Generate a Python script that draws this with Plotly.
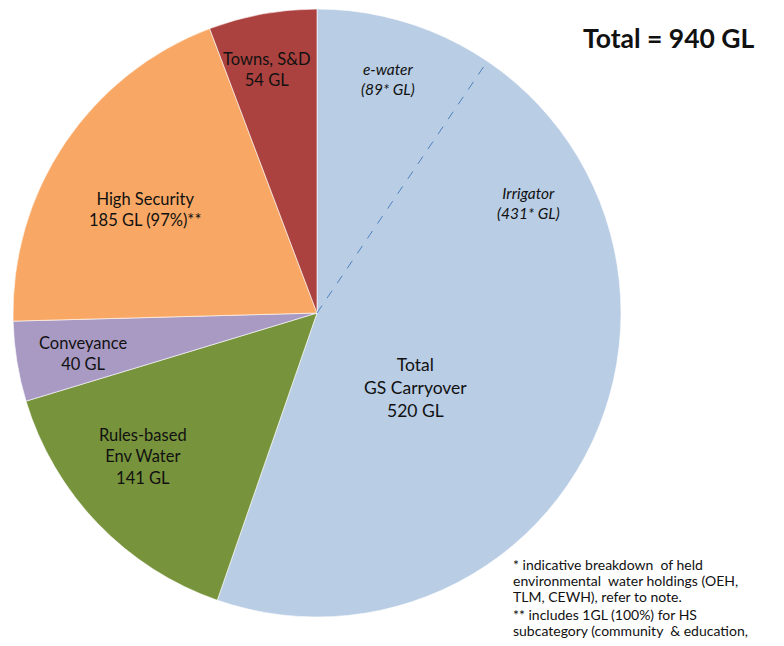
import math
import plotly.graph_objects as go

# ---- data ----
categories = ["Total GS Carryover", "Rules-based Env Water", "Conveyance", "High Security", "Towns, S&D"]
values = [520, 141, 40, 185, 54]
colors = ["#B9CDE5", "#77933C", "#A99AC4", "#F8A864", "#AC423F"]
sub_labels = ["e-water", "Irrigator"]
sub_values = [89, 431]
total_value = sum(values)

# page body has an 8px margin; work in window pixels and convert
OFF = 8
W, H = 784 - OFF, 646 - OFF
FONT = "Lato"

def px(x):
    return (x - OFF) / W

def py(y):
    return 1 - (y - OFF) / H

cx_px, cy_px, r_px = 317, 313, 304
fig = go.Figure()
fig.add_trace(go.Pie(
    labels=categories,
    values=values,
    sort=False,
    direction="clockwise",
    rotation=0,
    marker=dict(colors=colors, line=dict(color="white", width=0.6)),
    textinfo="none",
    hoverinfo="label+value",
    showlegend=False,
    domain=dict(x=[px(cx_px - r_px), px(cx_px + r_px)], y=[py(cy_px + r_px), py(cy_px - r_px)]),
))

# dashed split line for GS Carryover sub-breakdown
ang = sub_values[0] / total_value * 2 * math.pi
fig.add_shape(type="line", xref="paper", yref="paper",
              x0=px(cx_px), y0=py(cy_px),
              x1=px(cx_px + r_px * math.sin(ang)), y1=py(cy_px - r_px * math.cos(ang)),
              line=dict(color="#4F81BD", width=1, dash="dash"))

def ann(x, y, text, size=15, italic=False, bold=False, xanchor="center", yanchor="middle", align="center"):
    t = text
    if italic:
        t = "<i>" + t + "</i>"
    if bold:
        t = "<b>" + t + "</b>"
    fig.add_annotation(x=px(x), y=py(y), xref="paper", yref="paper", text=t, showarrow=False,
                       font=dict(family=FONT, size=size, color="#111111"),
                       xanchor=xanchor, yanchor=yanchor, align=align)

ann(267, 70, f"{categories[4]}<br>{values[4]} GL", size=16.5)
ann(388, 79, f"{sub_labels[0]}<br>({sub_values[0]}* GL)", size=15.5, italic=True)
ann(528, 203, f"{sub_labels[1]}<br>({sub_values[1]}* GL)", size=15.5, italic=True)
ann(415, 387, f"Total<br>GS Carryover<br>{values[0]} GL", size=17.5)
ann(145, 209, f"{categories[3]}<br>{values[3]} GL (97%)**", size=16.5)
ann(83, 353, f"{categories[2]}<br>{values[2]} GL", size=16.5)
ann(143, 457, f"Rules-based<br>Env Water<br>{values[1]} GL", size=16.5)
ann(669, 38, f"Total = {total_value} GL", size=26.5, bold=True)

notes = [
    "* indicative breakdown  of held",
    "environmental  water holdings (OEH,",
    "TLM, CEWH), refer to note.",
    "** includes 1GL (100%) for HS",
    "subcategory (community  & education,",
]
note_y = [564, 580, 596, 614, 630]
for t, yy in zip(notes, note_y):
    ann(511, yy, t, size=14, xanchor="left", align="left")

fig.update_layout(width=W, height=H, margin=dict(l=0, r=0, t=0, b=0),
                  paper_bgcolor="white", plot_bgcolor="white")
fig.write_html("out.html")
